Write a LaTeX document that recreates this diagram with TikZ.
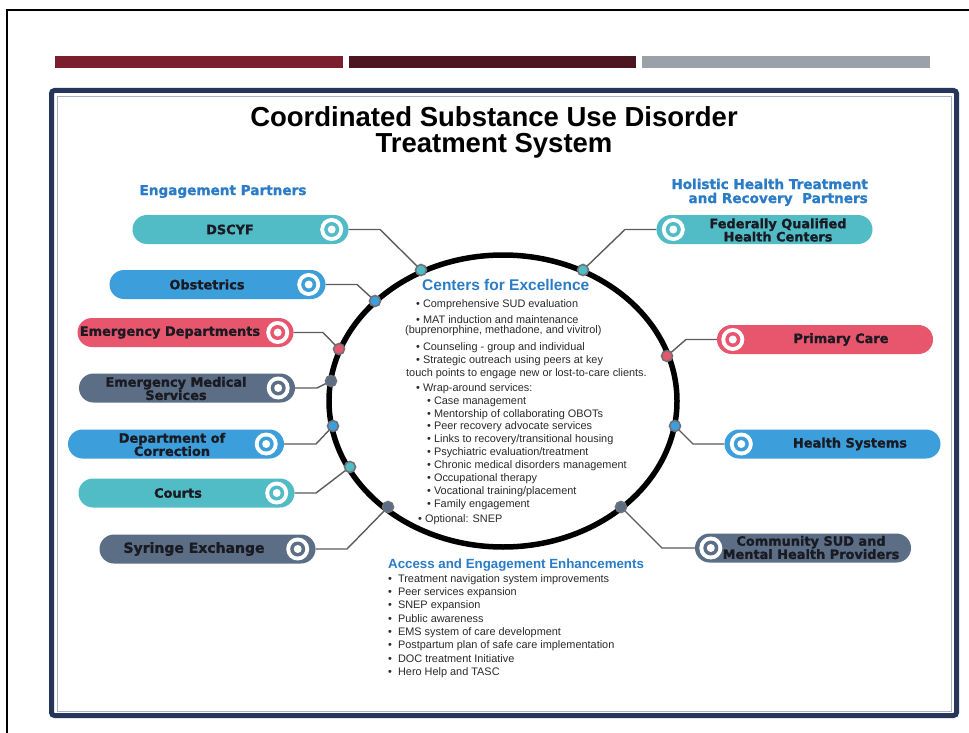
\documentclass[tikz,border=0pt]{standalone}
\usepackage{fontspec}
\setmainfont{Liberation Sans}
\newfontfamily\heavyfont{DejaVu Sans}[BoldFeatures={FakeBold=1.2}]
\usetikzlibrary{shapes.misc,shapes.geometric,calc}

\definecolor{pteal}{HTML}{52BCC6}
\definecolor{pblue}{HTML}{3C9FDB}
\definecolor{ppink}{HTML}{E8566E}
\definecolor{pslate}{HTML}{5B6E85}
\definecolor{headblue}{HTML}{2B7CC6}
\definecolor{navy}{HTML}{26365A}
\definecolor{framegray}{HTML}{A9B1C2}
\definecolor{barred}{HTML}{7B1F2F}
\definecolor{bardark}{HTML}{4C1520}
\definecolor{bargray}{HTML}{9BA1A8}
\definecolor{linkgray}{HTML}{5C5C5C}
\definecolor{hubgray}{HTML}{6E7178}
\definecolor{ink}{HTML}{1A1A22}
\definecolor{bodytext}{HTML}{2A2A2A}

\tikzset{
  pill/.style={rounded rectangle, minimum width=216pt, minimum height=29pt,
    inner sep=0pt, draw=none},
  pilltext/.style={font=\heavyfont\bfseries\fontsize{12.9}{13.2}\selectfont,
    align=center, text=ink, inner sep=0pt},
  link/.style={draw=linkgray, line width=1.4pt},
  hub/.style={circle, minimum size=11pt, inner sep=0pt, draw=hubgray,
    line width=1.6pt},
  sidehead/.style={font=\heavyfont\bfseries\fontsize{13.6}{14}\selectfont,
    text=headblue, inner sep=0pt},
  listhead/.style={font=\bfseries\fontsize{15.5}{16}\selectfont,
    text=headblue, inner sep=0pt, anchor=base west},
  item/.style={font=\fontsize{10.9}{13}\selectfont, text=bodytext,
    inner sep=0pt, anchor=base west},
  pics/target/.style={code={
    \fill[white] (0,0) circle[radius=11.5pt];
    \fill[#1] (0,0) circle[radius=7.5pt];
    \fill[white] (0,0) circle[radius=4pt];
  }}
}

\begin{document}
\begin{tikzpicture}[x=1pt,y=-1pt]
\useasboundingbox (0,0) rectangle (969,733);
\fill[white] (0,0) rectangle (969,733);

% slide edge
\draw[line width=2pt] (7,733) -- (7,10) -- (969,10);

% header bars
\fill[barred]  (55,56) rectangle (343,68);
\fill[bardark] (349,56) rectangle (636,68);
\fill[bargray] (642,56) rectangle (930,68);

% framed panel
\draw[navy, line width=5pt, rounded corners=3pt] (51.5,90.5) rectangle (956.5,715.5);
\draw[framegray, line width=1pt] (57,96.5) rectangle (951.5,711);

% title
\node[font=\bfseries\fontsize{27.5}{28}\selectfont, anchor=base, inner sep=0pt] (title1) at (494,127) {Coordinated Substance Use Disorder};
\node[font=\bfseries\fontsize{27.5}{28}\selectfont, anchor=base, inner sep=0pt] (title2) at (494,153) {Treatment System};

% group headings
\node[sidehead, anchor=base] (lefthead) at (223,195) {Engagement Partners};
\node[sidehead, anchor=base east] (righthead1) at (868,189) {Holistic Health Treatment};
\node[sidehead, anchor=base east] (righthead2) at (868,203) {and Recovery\ \ Partners};

% central ring
\node[ellipse, draw=black, line width=5.5pt, minimum width=348pt, minimum height=292pt, inner sep=0pt] (ring) at (503,401) {};

% partner pills
\node[pill, fill=pteal]  (p1)  at (240.5,229.5) {};
\node[pill, fill=pblue]  (p2)  at (217.5,284.5) {};
\node[pill, fill=ppink]  (p3)  at (185.5,332.5) {};
\node[pill, fill=pslate] (p4)  at (187,388) {};
\node[pill, fill=pblue]  (p5)  at (176,444) {};
\node[pill, fill=pteal]  (p6)  at (186.5,493) {};
\node[pill, fill=pslate] (p7)  at (207.5,549) {};
\node[pill, fill=pteal]  (p8)  at (764.5,229.5) {};
\node[pill, fill=ppink]  (p9)  at (825,339.5) {};
\node[pill, fill=pblue]  (p10) at (832.5,444) {};
\node[pill, fill=pslate] (p11) at (803,548) {};

% target icons at the pill ends
\pic at ($(p1.east)+(-17,0)$) {target=pteal};
\pic at ($(p2.east)+(-17,0)$) {target=pblue};
\pic at ($(p3.east)+(-16,0)$) {target=ppink};
\pic at ($(p4.east)+(-17,0)$) {target=pslate};
\pic at ($(p5.east)+(-18,0)$) {target=pblue};
\pic at ($(p6.east)+(-18,0)$) {target=pteal};
\pic at ($(p7.east)+(-18,0)$) {target=pslate};
\pic at ($(p8.west)+(17,0)$) {target=pteal};
\pic at ($(p9.west)+(16,0)$) {target=ppink};
\pic at ($(p10.west)+(17,0)$) {target=pblue};
\pic at ($(p11.west)+(16,0)$) {target=pslate};

% pill labels
\node[pilltext] (t1)  at (230,229.5) {DSCYF};
\node[pilltext] (t2)  at (207,284.5) {Obstetrics};
\node[pilltext] (t3)  at (170,332.5) {Emergency Departments};
\node[pilltext] (t4)  at (176,388.5) {Emergency Medical\\Services};
\node[pilltext] (t5)  at (172,444.5) {Department of\\Correction};
\node[pilltext] (t6)  at (178,493) {Courts};
\node[pilltext, font=\heavyfont\bfseries\fontsize{14}{14}\selectfont] (t7) at (194,549) {Syringe Exchange};
\node[pilltext] (t8)  at (778,230) {Federally Qualified\\Health Centers};
\node[pilltext] (t9)  at (841,339.5) {Primary Care};
\node[pilltext] (t10) at (850,444) {Health Systems};
\node[pilltext] (t11) at (811,547.5) {Community SUD and\\Mental Health Providers};

% hubs on the ring
\coordinate (h1)  at (421,270);
\coordinate (h2)  at (375,301);
\coordinate (h3)  at (339,349);
\coordinate (h4)  at (331,381);
\coordinate (h5)  at (333,426);
\coordinate (h6)  at (350,467);
\coordinate (h7)  at (388,507);
\coordinate (h8)  at (583,270);
\coordinate (h9)  at (667,356);
\coordinate (h10) at (675,426);
\coordinate (h11) at (621,507);

% elbow points
\coordinate (b1)  at (380,229.5);
\coordinate (b2)  at (357,284.5);
\coordinate (b3)  at (323,332.5);
\coordinate (b4)  at (317,388);
\coordinate (b5)  at (316,444);
\coordinate (b6)  at (316,493);
\coordinate (b7)  at (347,549);
\coordinate (b8)  at (625,229.5);
\coordinate (b9)  at (686,339.5);
\coordinate (b10) at (693,444);
\coordinate (b11) at (662,548);

% connectors
\draw[link] (p1.east) -- (b1) -- (h1);
\draw[link] (p2.east) -- (b2) -- (h2);
\draw[link] (p3.east) -- (b3) -- (h3);
\draw[link] (p4.east) -- (b4) -- (h4);
\draw[link] (p5.east) -- (b5) -- (h5);
\draw[link] (p6.east) -- (b6) -- (h6);
\draw[link] (p7.east) -- (b7) -- (h7);
\draw[link] (p8.west) -- (b8) -- (h8);
\draw[link] (p9.west) -- (b9) -- (h9);
\draw[link] (p10.west) -- (b10) -- (h10);
\draw[link] (p11.west) -- (b11) -- (h11);

\node[hub, fill=pteal]  (d1)  at (h1) {};
\node[hub, fill=pblue]  (d2)  at (h2) {};
\node[hub, fill=ppink]  (d3)  at (h3) {};
\node[hub, fill=pslate] (d4)  at (h4) {};
\node[hub, fill=pblue]  (d5)  at (h5) {};
\node[hub, fill=pteal]  (d6)  at (h6) {};
\node[hub, fill=pslate] (d7)  at (h7) {};
\node[hub, fill=pteal]  (d8)  at (h8) {};
\node[hub, fill=ppink]  (d9)  at (h9) {};
\node[hub, fill=pblue]  (d10) at (h10) {};
\node[hub, fill=pslate] (d11) at (h11) {};

% Centers for Excellence
\node[listhead] (cfe) at (422,290.5) {Centers for Excellence};
\node[item] (c1)  at (416,307)   {\textbullet\ Comprehensive SUD evaluation};
\node[item] (c2)  at (416,323)   {\textbullet\ MAT induction and maintenance};
\node[item] (c2b) at (405,333.5) {(buprenorphine, methadone, and vivitrol)};
\node[item] (c3)  at (416,350)   {\textbullet\ Counseling - group and individual};
\node[item] (c4)  at (416,363)   {\textbullet\ Strategic outreach using peers at key};
\node[item] (c4b) at (406,376)   {touch points to engage new or lost-to-care clients.};
\node[item] (c5)  at (416,391)   {\textbullet\ Wrap-around services:};
\node[item] (s1)  at (427,404)   {\textbullet\ Case management};
\node[item] (s2)  at (427,417)   {\textbullet\ Mentorship of collaborating OBOTs};
\node[item] (s3)  at (427,429.5) {\textbullet\ Peer recovery advocate services};
\node[item] (s4)  at (427,442.5) {\textbullet\ Links to recovery/transitional housing};
\node[item] (s5)  at (427,455)   {\textbullet\ Psychiatric evaluation/treatment};
\node[item] (s6)  at (427,468)   {\textbullet\ Chronic medical disorders management};
\node[item] (s7)  at (427,481)   {\textbullet\ Occupational therapy};
\node[item] (s8)  at (427,494)   {\textbullet\ Vocational training/placement};
\node[item] (s9)  at (427,507)   {\textbullet\ Family engagement};
\node[item] (c6)  at (418,522)   {\textbullet\ Optional: SNEP};

% Access and Engagement Enhancements
\node[listhead, font=\bfseries\fontsize{13.3}{14}\selectfont] (aee) at (388,568) {Access and Engagement Enhancements};
\node[item] (a1) at (388,582) {\textbullet\ \ Treatment navigation system improvements};
\node[item] (a2) at (388,595) {\textbullet\ \ Peer services expansion};
\node[item] (a3) at (388,608) {\textbullet\ \ SNEP expansion};
\node[item] (a4) at (388,622) {\textbullet\ \ Public awareness};
\node[item] (a5) at (388,635) {\textbullet\ \ EMS system of care development};
\node[item] (a6) at (388,648) {\textbullet\ \ Postpartum plan of safe care implementation};
\node[item] (a7) at (388,662) {\textbullet\ \ DOC treatment Initiative};
\node[item] (a8) at (388,675) {\textbullet\ \ Hero Help and TASC};
\end{tikzpicture}
\end{document}
